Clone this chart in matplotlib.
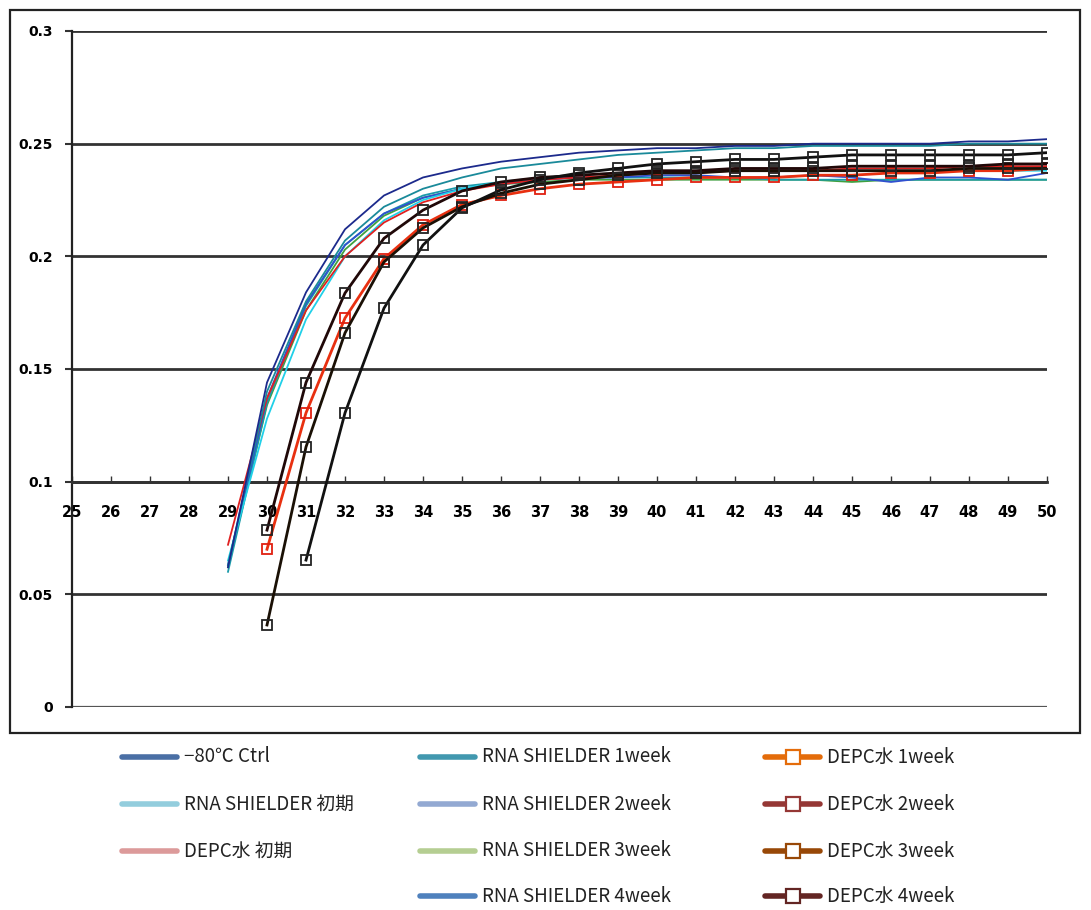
import matplotlib
matplotlib.use("Agg")
import matplotlib.pyplot as plt
from matplotlib.lines import Line2D
from matplotlib.patches import Rectangle

plt.rcParams['font.family'] = ['Noto Sans CJK JP', 'DejaVu Sans']

# ---------------- data ----------------
x_full = list(range(29, 51))
x_depc = list(range(30, 51))
x_depc4 = list(range(31, 51))

ctrl = [0.062, 0.144, 0.184, 0.212, 0.227, 0.235, 0.239, 0.242, 0.244, 0.246, 0.247,
        0.248, 0.248, 0.249, 0.249, 0.250, 0.250, 0.250, 0.250, 0.251, 0.251, 0.252]
rna_init = [0.065, 0.128, 0.172, 0.200, 0.216, 0.225, 0.230, 0.233, 0.235, 0.236, 0.237,
            0.237, 0.238, 0.238, 0.238, 0.238, 0.238, 0.238, 0.238, 0.238, 0.238, 0.238]
depc_init = [0.072, 0.137, 0.176, 0.200, 0.215, 0.224, 0.229, 0.232, 0.234, 0.235, 0.236,
             0.237, 0.237, 0.238, 0.238, 0.238, 0.239, 0.239, 0.239, 0.240, 0.240, 0.240]
rna_1w = [0.060, 0.135, 0.178, 0.205, 0.219, 0.227, 0.231, 0.233, 0.234, 0.235, 0.235,
          0.235, 0.235, 0.235, 0.234, 0.234, 0.234, 0.234, 0.234, 0.234, 0.234, 0.234]
rna_2w = [0.063, 0.137, 0.179, 0.205, 0.219, 0.226, 0.230, 0.232, 0.234, 0.235, 0.235,
          0.236, 0.236, 0.235, 0.235, 0.236, 0.235, 0.233, 0.235, 0.235, 0.234, 0.237]
rna_3w = [0.062, 0.134, 0.176, 0.203, 0.218, 0.226, 0.230, 0.232, 0.233, 0.234, 0.234,
          0.234, 0.234, 0.234, 0.234, 0.234, 0.233, 0.234, 0.234, 0.234, 0.234, 0.234]
rna_4w = [0.063, 0.140, 0.180, 0.207, 0.222, 0.230, 0.235, 0.239, 0.241, 0.243, 0.245,
          0.246, 0.247, 0.248, 0.248, 0.249, 0.249, 0.249, 0.249, 0.250, 0.250, 0.250]

depc_1w = [0.070, 0.1305, 0.1726, 0.199, 0.214, 0.223, 0.227, 0.230, 0.232, 0.233, 0.234,
           0.235, 0.235, 0.235, 0.236, 0.236, 0.237, 0.237, 0.238, 0.238, 0.239]
depc_2w = [0.0785, 0.144, 0.1837, 0.208, 0.2205, 0.229, 0.233, 0.235, 0.236, 0.237, 0.238,
           0.238, 0.239, 0.239, 0.239, 0.240, 0.240, 0.240, 0.240, 0.241, 0.241]
depc_3w = [0.0364, 0.1154, 0.166, 0.1975, 0.2126, 0.222, 0.228, 0.232, 0.234, 0.236, 0.237,
           0.237, 0.238, 0.238, 0.238, 0.238, 0.238, 0.238, 0.239, 0.239, 0.239]
depc_4w = [0.0652, 0.1305, 0.177, 0.205, 0.2215, 0.2295, 0.234, 0.237, 0.239, 0.241,
           0.242, 0.243, 0.243, 0.244, 0.245, 0.245, 0.245, 0.245, 0.245, 0.246]

x_ticks = list(range(25, 51))
y_ticks = [0, 0.05, 0.1, 0.15, 0.2, 0.25, 0.3]
y_tick_labels = ["0", "0.05", "0.1", "0.15", "0.2", "0.25", "0.3"]

labels = ["−80℃ Ctrl", "RNA SHIELDER 初期", "DEPC水 初期",
          "RNA SHIELDER 1week", "RNA SHIELDER 2week", "RNA SHIELDER 3week", "RNA SHIELDER 4week",
          "DEPC水 1week", "DEPC水 2week", "DEPC水 3week", "DEPC水 4week"]
legend_colors = ["#4a6fa5", "#93cddd", "#dc9a9a",
                 "#4198af", "#93a9d2", "#b5ce92", "#4f81bd",
                 "#e46c0a", "#953735", "#984807", "#632523"]

# ---------------- figure ----------------
W, H = 1091, 910
fig = plt.figure(figsize=(W / 100, H / 100), dpi=100)

def fx(px):
    return px / W

def fy(py):
    return 1 - py / H

# outer box
fig.patches.append(Rectangle((fx(10), fy(733)), fx(1080) - fx(10), fy(10) - fy(733),
                             transform=fig.transFigure, fill=False, edgecolor="#222222", lw=1.6))

ax = fig.add_axes([fx(72), fy(707), fx(1047) - fx(72), fy(31) - fy(707)])
ax.set_xlim(25, 50)
ax.set_ylim(0, 0.3)

for yv in y_ticks[1:]:
    ax.axhline(yv, color="#333333", lw=2.0, zorder=1)
ax.axhline(0, color="#555555", lw=1.6, zorder=1)

for s in ["top", "right"]:
    ax.spines[s].set_visible(False)
ax.spines["left"].set_linewidth(1.6)
ax.spines["left"].set_color("#222222")
ax.spines["bottom"].set_position(("data", 0.1))
ax.spines["bottom"].set_color("#333333")
ax.spines["bottom"].set_linewidth(2.0)

ax.set_xticks(x_ticks)
ax.set_xticklabels([str(v) for v in x_ticks], fontsize=10.5, fontweight="bold",
                   family=["DejaVu Sans"])
ax.tick_params(axis="x", direction="in", length=4, width=1, color="#333333", pad=17)
ax.set_yticks(y_ticks)
ax.set_yticklabels(y_tick_labels, fontsize=10, fontweight="bold", family=["DejaVu Sans"])
ax.tick_params(axis="y", direction="out", length=5, width=1.5, color="#333333", pad=9)

# plain lines
plain = [
    (rna_3w, "#40a040"),
    (rna_1w, "#1a9aaa"),
    (rna_2w, "#3050d0"),
    (rna_init, "#20d0e8"),
    (depc_init, "#e02020"),
    (rna_4w, "#1a8a9a"),
    (ctrl, "#1c2a8c"),
]
for ys, c in plain:
    ax.plot(x_full, ys, color=c, lw=1.3, zorder=3)

marked = [
    (x_depc, depc_1w, "#e83010", "#e02010"),
    (x_depc, depc_3w, "#1a1005", "#222222"),
    (x_depc, depc_2w, "#200808", "#222222"),
    (x_depc4, depc_4w, "#111111", "#222222"),
]
for xs, ys, c, mc in marked:
    ax.plot(xs, ys, color=c, lw=2.0, zorder=4, marker="s", markersize=6.5,
            markerfacecolor="none", markeredgecolor=mc, markeredgewidth=1.3)

# legend (manual layout)
col_x = [122, 420, 765]
row_y = [757, 804, 851, 896]
positions = [(0, 0), (0, 1), (0, 2),
             (1, 0), (1, 1), (1, 2), (1, 3),
             (2, 0), (2, 1), (2, 2), (2, 3)]
for i, (lab, col) in enumerate(zip(labels, legend_colors)):
    ci, ri = positions[i]
    x0 = col_x[ci]
    y0 = row_y[ri]
    fig.add_artist(Line2D([fx(x0), fx(x0 + 55)], [fy(y0), fy(y0)], transform=fig.transFigure,
                          color=col, lw=4, solid_capstyle="round"))
    if i >= 7:
        fig.add_artist(Line2D([fx(x0 + 27.5)], [fy(y0)], transform=fig.transFigure,
                              marker="s", markersize=10, markerfacecolor="white",
                              markeredgecolor=col, markeredgewidth=1.6, linestyle="none"))
    fig.text(fx(x0 + 62), fy(y0), lab, fontsize=13.5, va="center", ha="left", color="#222222",
             family=["Noto Sans CJK JP", "DejaVu Sans"])

fig.savefig("out.png", dpi=100)
